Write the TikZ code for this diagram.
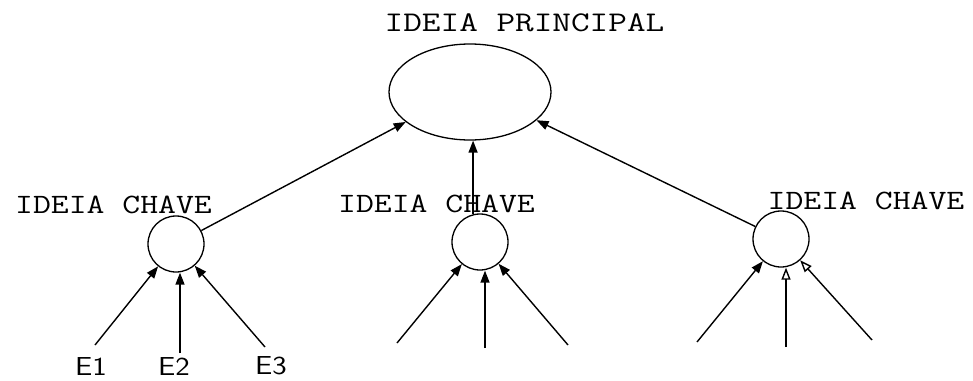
\documentclass[tikz,border=0pt]{standalone}
\usetikzlibrary{arrows.meta,shapes.geometric}
\begin{document}
\begin{tikzpicture}[x=1pt,y=-1pt,
  lbl/.style={font=\fontsize{28}{28}\ttfamily, inner sep=0pt, xscale=1.24, transform shape},
  ttl/.style={font=\fontsize{28.5}{28.5}\ttfamily, inner sep=0pt, xscale=1.27, transform shape},
  elbl/.style={font=\fontsize{26}{26}\sffamily, inner sep=0pt, xscale=1.18, transform shape},
  keyc/.style={draw, circle, line width=1.3pt, minimum size=56pt, inner sep=0pt},
  mainell/.style={draw, ellipse, line width=1.3pt, minimum width=162pt, minimum height=96pt, inner sep=0pt},
  arr/.style={line width=1.4pt, -{Triangle[length=12pt,width=9pt]}},
  arro/.style={line width=1.4pt, -{Triangle[open,length=12pt,width=9pt]}}]
\useasboundingbox (0,0) rectangle (973,380);
\fill[white] (0,0) rectangle (973,380);
% main idea
\node[ttl] (title) at (524.5,23) {IDEIA PRINCIPAL};
\node[mainell] (ell) at (470,92) {};
% key ideas
\node[lbl] (k1) at (113.5,205) {IDEIA CHAVE};
\node[lbl] (k2) at (436.5,204) {IDEIA CHAVE};
\node[lbl] (k3) at (866,201) {IDEIA CHAVE};
\node[keyc] (lc) at (176,244) {};
\node[keyc] (mc) at (480,242) {};
\node[keyc] (rc) at (781,239) {};
% connectors to main idea
\draw[arr] (lc) -- (ell.205.8);
\draw[arr] (mc.104) -- (mc.104 |- ell.south);
\draw[arr] (rc) -- (ell.337.6);
% evidence labels
\node[elbl] (e1) at (91,366) {E1};
\node[elbl] (e2) at (174,366) {E2};
\node[elbl] (e3) at (271,366) {E3};
% free ends
\coordinate (a1) at (95,345);
\coordinate (a2) at (180,353);
\coordinate (a3) at (265,347);
\coordinate (b1) at (397,343);
\coordinate (b2) at (485,348);
\coordinate (b3) at (568,345);
\coordinate (c1) at (697,342);
\coordinate (c2) at (786,347);
\coordinate (c3) at (872,340);
% arrows into key ideas
\draw[arr] (a1) -- (lc);
\draw[arr] (a2) -- (a2 |- lc.south);
\draw[arr] (a3) -- (lc);
\draw[arr] (b1) -- (mc);
\draw[arr] (b2) -- (b2 |- mc.south);
\draw[arr] (b3) -- (mc);
\draw[arr] (c1) -- (rc);
\draw[arro] (c2) -- (c2 |- rc.south);
\draw[arro] (c3) -- (rc);
\end{tikzpicture}
\end{document}
